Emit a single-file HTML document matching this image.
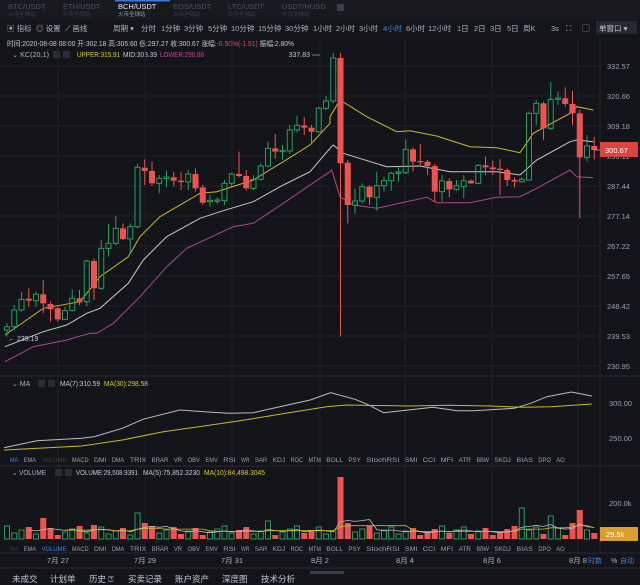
<!DOCTYPE html>
<html><head><meta charset="utf-8">
<style>
body{margin:0;background:#14151a;width:640px;height:585px;overflow:hidden;font-family:"Liberation Sans","Noto Sans CJK SC",sans-serif;color:#aeb2bb}
svg{position:absolute;left:0;top:0}
</style></head><body>
<svg id="s" width="640" height="585" viewBox="0 0 640 585" font-family="Liberation Sans, Noto Sans CJK SC, sans-serif"></svg>
<script>
const S=document.getElementById('s');let h='';
function T(x,y,t,c,sz,a,tl){h+=`<text x="${x}" y="${y}" fill="${c||'#aeb2bb'}" font-size="${sz||8}" ${a?'text-anchor="'+a+'"':''} ${tl?'textLength="'+tl+'" lengthAdjust="spacingAndGlyphs"':''}>${t}</text>`}
function R(x,y,w,hh,c,st){h+=`<rect x="${x}" y="${y}" width="${w}" height="${hh}" ${st?'fill="none" stroke="'+c+'"':'fill="'+c+'"'}/>`}
function L(x1,y1,x2,y2,c,w){h+=`<line x1="${x1}" y1="${y1}" x2="${x2}" y2="${y2}" stroke="${c}" stroke-width="${w||1}"/>`}
function P(pts,c,w){h+=`<polyline fill="none" stroke="${c}" stroke-width="${w||1}" points="${pts.map(p=>p[0].toFixed(1)+','+p[1].toFixed(1)).join(' ')}"/>`}
R(0,0,640,20,'#181a20');
const tabs=[['BTC/USDT',8],['ETH/USDT',63],['BCH/USDT',118],['EOS/USDT',173],['LTC/USDT',228],['USDT/HUSD',282]];
tabs.forEach(([n,x])=>{const sel=n=='BCH/USDT';T(x,9,n,sel?'#e6e8ec':'#4d525c',7.5);T(x,16,'火币全球站',sel?'#9aa0aa':'#3a3e46',5.5)});
R(115,0,55,1.5,'#3b7bd9');R(337,4,7,7,'#3a3e46');
R(0,20,640,16,'#15161b');
const tb=[['▣ 指标',7],['◎ 设置',36],['⟋ 画线',65],['周期 ▾',113],['分时',141],['1分钟',161],['3分钟',184],['5分钟',208],['10分钟',231],['15分钟',258],['30分钟',285],['1小时',313],['2小时',336],['3小时',359],['4小时',383],['6小时',406],['12小时',428],['1日',457],['2日',474],['3日',490],['5日',507],['周K',523],['3s',551],['⛶',566],['▢',582]];
tb.forEach(([n,x])=>T(x,31,n,n=='4小时'?'#3b82e6':'#aeb2bb',7.5));
R(596,21,41,13,'#262930');T(599,31,'单窗口 ▾','#c4c8d0',7.5);
T(7,46,'时间:2020-08-08 08:00 开:302.18 高:305.60 低:297.27 收:300.67 涨幅:<tspan fill="#e0504b">-0.50%(-1.51)</tspan> 振幅:2.80%','#c4c8d0',7,0,287);
T(12,57,'⌄  KC(20,1)','#aeb2bb',7,0,37);R(53,51,7,7,'#2a2d34');R(63,51,7,7,'#2a2d34');
T(77,57,'UPPER:315.91','#d8cc2a',7,0,43);T(123,57,'MID:303.39','#c4c8d0',7,0,34);T(160,57,'LOWER:290.88','#c04a93',7,0,44);
const G='#1f2127';
for(let k=0;k<11;k++){L(0,66+30*k,600,66+30*k,G)}
[58,145,232,320,405,492,578].forEach(x=>{L(x,38,x,555,G)});
L(0,376,640,376,'#2a2c33');L(0,466,640,466,'#2a2c33');L(0,553,640,553,'#2a2c33');L(600,38,600,553,'#2a2c33');L(0,568,640,568,'#2a2c33');
const ticks=['332.57','320.66','309.18','298.11','287.44','277.14','267.22','257.65','248.42','239.53','230.95'];
ticks.forEach((t,k)=>T(607,69+30*k,t,'#9aa0aa',7.5));
const z4=a=>a.map(p=>[p[0]/3,60+p[1]/3]),z5=a=>a.map(p=>[310+p[0]/3,60+p[1]/3]);
const up=z4([[15,825],[130,745],[240,725],[300,650],[385,590],[420,530],[480,470],[600,400],[650,395],[760,360],[850,305],[930,255],[990,190]]).concat(z5([[60,170],[90,120],[170,170],[260,215],[300,212],[380,228],[480,260],[560,263],[630,278],[670,220],[780,160],[800,140],[850,150]]));
const mid=z4([[15,860],[130,815],[200,795],[260,760],[300,745],[385,670],[430,600],[500,530],[600,475],[660,455],[760,425],[850,375],[930,335],[990,265]]).concat(z5([[70,255],[100,280],[230,320],[330,318],[420,335],[560,335],[630,345],[680,300],[780,245],[800,240],[850,245]]));
const lo=z4([[15,905],[100,860],[200,840],[270,820],[290,820],[340,790],[420,710],[500,620],[560,565],[700,500],[760,490],[850,430],[930,375],[990,335]]).concat(z5([[65,330],[90,410],[130,435],[200,445],[350,412],[380,428],[480,428],[560,412],[630,410],[680,385],[780,330],[800,350],[850,353]]));
P(up,'#c9b92a');P(mid,'#c9c9c9');P(lo,'#b0468d');
const C=[[800,810,1,790,830],[750,800,1,735,810],[718,750,1,695,755],[716,722,0,685,740],[703,722,1,695,740],[703,730,0,660,760],[732,748,0,725,785],[745,778,0,740,785],[752,778,1,740,780],[715,752,1,688,755],[715,727,0,690,735],[603,725,1,600,738],[603,685,0,595,720],[565,685,1,540,690],[550,565,1,492,590],[505,550,1,468,555],[505,537,0,490,540],[500,537,1,490,580],[322,500,1,312,505],[323,333,0,298,375],[333,370,0,305,378],[355,370,1,345,400],[351,356,1,332,382],[352,362,0,335,380],[362,366,0,335,390],[342,366,1,330,390],[342,385,0,325,395],[382,428,0,375,435],[421,425,1,405,440],[420,424,1,412,432],[370,422,1,360,435],[342,370,1,338,380],[342,348,0,275,352],[348,385,0,330,392],[358,385,1,345,390],[318,358,1,310,362],[265,318,1,245,322],[265,275,0,222,296],[271,275,1,255,300],[210,273,1,195,282],[196,210,1,168,218],[196,203,0,172,225],[203,215,0,195,248],[145,215,1,140,218],[123,145,1,108,150],
[-6,123,1,-21,130],[-6,310,0,-21,830],[308,435,0,300,490],[423,435,1,385,462],[380,423,1,370,430],[380,412,0,375,435],[377,412,1,335,452],[362,377,1,350,395],[340,362,1,335,392],[336,340,1,320,365],[268,338,1,238,342],[268,305,0,262,335],[303,307,0,252,320],[305,318,0,300,345],[318,395,0,312,425],[363,395,1,345,425],[363,388,0,355,412],[377,388,1,360,392],[362,380,1,345,415],[362,370,0,358,372],[316,370,1,312,372],[316,322,0,290,345],[322,328,0,302,345],[326,330,0,298,405],[330,360,0,325,378],[360,365,0,352,382],[358,365,1,352,368],[160,360,1,155,362],[130,160,1,120,195],[130,205,0,125,240],[118,205,1,66,210],[114,118,1,95,135],[115,132,0,82,140],[132,160,0,92,195],[160,292,0,150,475],[258,292,1,225,305],[258,270,0,230,298]];
const GR='#22a060',RD='#ef5350';
C.forEach((c,i)=>{const x=7+i*7.25,y=v=>60+v/3;const col=c[2]?GR:RD;
L(x,y(c[3]),x,y(c[0]),col);L(x,y(c[1]),x,y(c[4]),col);
const hh=Math.max(1,y(c[1])-y(c[0]));
if(c[2])R(x-2.5,y(c[0]),5,hh,col,1);else R(x-3,y(c[0]),6,hh,col)});
T(310,57,'337.83','#c4c8d0',7,'end');L(312,55,320,55,'#c4c8d0',.6);
T(8,341,'← 239.19','#c4c8d0',7);
R(600,142,38,15,'#d9443f');T(605,153,'300.67','#fff',7.5);L(594,150,600,150,'#ccc',.6);
T(12,386,'⌄  MA','#aeb2bb',7);R(38,380,7,7,'#2a2d34');R(48,380,7,7,'#2a2d34');
T(60,386,'MA(7):310.59','#c4c8d0',7,0,40);T(104,386,'MA(30):298.58','#d8cc2a',7,0,44);
T(609,406,'300.00','#9aa0aa',7.5);T(609,441,'250.00','#9aa0aa',7.5);
const z2=a=>a.map(p=>[p[0]/2.45,370+p[1]/3]);
P(z2([[10,233],[90,212],[200,205],[230,200],[300,175],[350,148],[440,120],[500,125],[560,130],[620,128],[680,112],[760,90],[810,68],[870,88],[900,103],[940,128],[1000,120],[1060,112],[1120,122],[1160,122],[1260,115],[1300,100],[1340,80],[1400,66],[1450,78]]),'#bdbdbd');
P(z2([[10,240],[200,228],[300,210],[400,185],[500,168],[600,150],[700,130],[800,110],[850,105],[1000,108],[1100,106],[1200,108],[1280,112],[1350,110],[1450,102]]),'#c9b92a');
const inds='MA EMA VOLUME MACD DMI DMA TRIX BRAR VR OBV EMV RSI WR SAR KDJ ROC MTM BOLL PSY StochRSI SMI CCI MFI ATR BBW SKDJ BIAS DPO AO'.split(' ');
function indRow(y,sel,dim){let tot=0;inds.forEach(n=>tot+=n.length*4.2+5.5);const k=(570-10)/tot;let x=10;inds.forEach(n=>{const w=n.length*4.2*k;T(x,y,n,n==sel?'#3b82e6':(n==dim?'#3a3e46':'#9aa0aa'),6.5,0,w.toFixed(1));x+=(n.length*4.2+5.5)*k})}
indRow(462,'MA','VOLUME');
T(12,475,'⌄  VOLUME','#aeb2bb',7,0,34);R(55,469,7,7,'#2a2d34');R(65,469,7,7,'#2a2d34');
T(76,475,'VOLUME:29,508.9391','#c4c8d0',7,0,62);T(143,475,'MA(5):75,852.3230','#c4c8d0',7,0,57);T(204,475,'MA(10):84,498.3045','#d8cc2a',7,0,61);
T(609,506,'200.0k','#9aa0aa',7.5);
const base=539,ov={5:518,12:525,18:513,19:523,36:521,46:477,47:523,71:508,75:516,78:523,79:510,80:530,81:533};
const tops=[];
C.forEach((c,i)=>{let t=ov[i]!==undefined?ov[i]:(526+((i*37)%10));tops.push(t);const x=7+i*7.25;const col=c[2]?GR:RD;
if(c[2])R(x-2.5,t,5,base-t,col,1);else R(x-3,t,6,base-t,col)});
function ma(n){return tops.map((t,i)=>{let s=0,k=0;for(let j=Math.max(0,i-n+1);j<=i;j++){s+=base-tops[j];k++}return [7+i*7.25,base-s/k*0.9]})}
P(ma(5).slice(3),'#bdbdbd',.8);P(ma(10).slice(8),'#c9b92a',.8);
R(600,527,38,14,'#d9a02a');T(606,537,'29.5k','#fff',7.5);
indRow(551,'VOLUME','MA');
[['7月 27',58],['7月 29',145],['7月 31',232],['8月 2',320],['8月 4',405],['8月 6',492],['8月 8',578]].forEach(([t,x])=>T(x,563,t,'#aeb2bb',7.5,'middle'));
T(588,563,'时数','#3b82e6',7);T(611,563,'%','#aeb2bb',7);T(620,563,'自动','#3b82e6',7);
R(310,571,34,3,'#3a3e46');
[['未成交',12],['计划单',50],['历史 ⍰',89],['买卖记录',128],['账户资产',175],['深度图',222],['技术分析',261]].forEach(([t,x])=>T(x,582,t,'#c4c8d0',8.5));
S.innerHTML=h;
</script>
</body></html>
